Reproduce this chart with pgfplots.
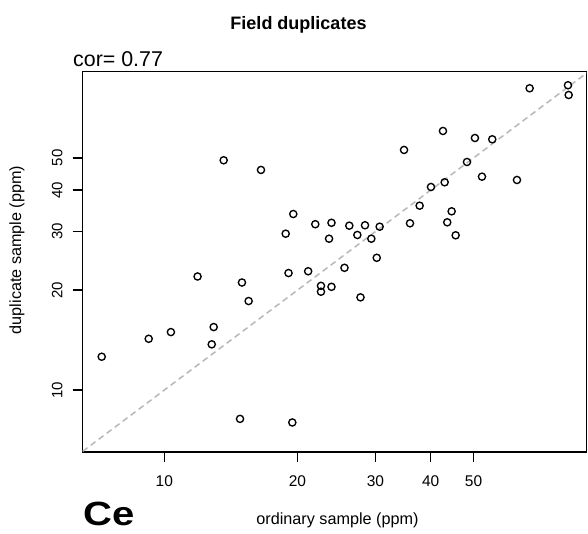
\documentclass[border=0pt]{standalone}
\usepackage{fontspec}
\setmainfont{Liberation Sans}
\usepackage{graphicx}
\usepackage{pgfplots}
\pgfplotsset{compat=1.18}
\pgfplotstableread{
x y
7.22 12.60
9.22 14.27
10.35 14.95
11.89 21.98
12.93 15.48
12.80 13.73
13.62 49.19
14.83 8.19
14.98 21.08
15.51 18.54
16.54 46.00
18.81 29.57
19.09 22.51
19.57 33.89
19.47 7.99
21.14 22.79
21.94 31.58
22.60 20.60
22.60 19.78
23.87 20.46
23.87 31.89
23.57 28.56
25.54 23.34
26.19 31.26
27.31 29.31
27.76 19.02
28.42 31.35
29.37 28.56
30.21 25.02
30.67 31.04
34.82 52.84
35.92 31.78
37.77 35.91
40.06 40.87
42.64 60.27
43.02 42.23
43.60 32.00
44.61 34.53
45.55 29.24
48.32 48.61
50.36 57.41
52.24 43.91
55.11 56.90
62.68 42.91
66.95 81.04
81.73 82.75
82.03 77.36
}\dupdata
\begin{document}
\begin{tikzpicture}
\useasboundingbox (-82.7pt,-81pt) rectangle (505.3pt,452pt);
\begin{axis}[
  at={(0pt,0pt)}, anchor=south west,
  scale only axis, width=504pt, height=380.3pt,
  xmode=log, ymode=log,
  xmin=6.54, xmax=90.1, ymin=6.51, ymax=90.9,
  xtick={10,20,30,40,50}, xticklabels={10,20,30,40,50},
  ytick={10,20,30,40,50}, yticklabels={10,20,30,40,50},
  minor tick num=0,
  tick align=outside,
  major tick length=10pt,
  xtick pos=bottom, ytick pos=left,
  axis line style={line width=1.3pt, black},
  tick style={line width=1.5pt, draw=black},
  /pgf/number format/assume math mode=true,
  xticklabel style={font=\fontsize{15.5}{15.5}\selectfont, anchor=north, inner sep=0pt, yshift=-13pt},
  yticklabel style={font=\fontsize{15}{15}\selectfont, rotate=90, anchor=south, inner sep=0pt},
  yticklabel shift=10pt,
  clip=false,
]
\addplot[draw=black!28, line width=1.5pt, dash pattern=on 6pt off 4pt] coordinates {(6.54,6.54) (90.1,90.1)};
\addplot[only marks, mark=o, mark size=3.6pt, mark options={line width=1.35pt, black}] table {\dupdata};
\pgfplotsinvokeforeach{10,20,30,40,50}{
  \draw[line width=1.4pt, black] (axis cs:#1,6.51) -- ++(0pt,-10pt);
  \draw[line width=1.4pt, black] (axis cs:6.54,#1) -- ++(-10pt,0pt);
}
\end{axis}
\node[anchor=base, font=\bfseries\fontsize{18}{18}\selectfont] at (215.8pt,422.5pt) {Field duplicates};
\node[anchor=base west, inner sep=0pt, font=\fontsize{21.4}{21.4}\selectfont] at (-9.7pt,385.5pt) {cor= 0.77};
\node[anchor=base west, inner sep=0pt] at (0.3pt,-73pt) {\scalebox{1.25}[1.05]{\fontsize{32}{32}\selectfont\bfseries Ce}};
\node[anchor=base, inner sep=0pt, font=\fontsize{16.2}{16.2}\selectfont] at (254.8pt,-72pt) {ordinary sample (ppm)};
\node[rotate=90, anchor=center, inner sep=0pt, font=\fontsize{16.2}{16.2}\selectfont] at (-65.7pt,202pt) {duplicate sample (ppm)};
\end{tikzpicture}
\end{document}
